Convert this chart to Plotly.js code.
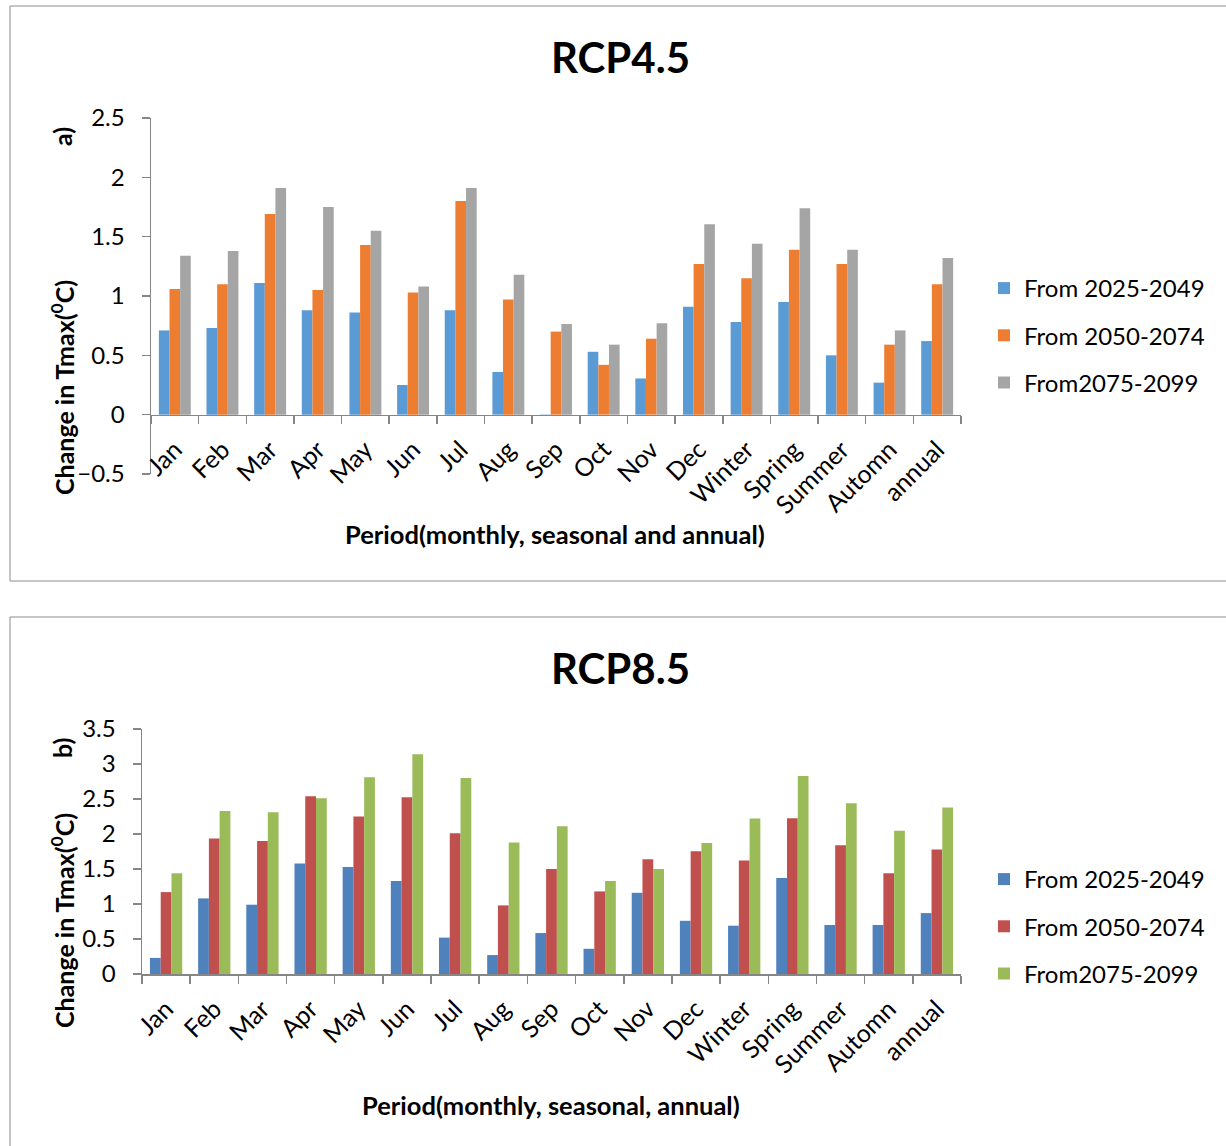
<!DOCTYPE html>
<html>
<head>
<meta charset="utf-8">
<script src="https://cdn.plot.ly/plotly-3.0.1.min.js"></script>
<style>html,body{margin:0;padding:0;background:#fff;}#chart{width:1226px;height:1146px;}</style>
</head>
<body>
<div id="chart"></div>
<script>
const categories = ['Jan','Feb','Mar','Apr','May','Jun','Jul','Aug','Sep','Oct','Nov','Dec','Winter','Spring','Summer','Automn','annual'];
const seriesNames = ['From 2025-2049','From 2050-2074','From2075-2099'];

const rcp45_2025_2049 = [0.71,0.73,1.11,0.88,0.86,0.25,0.88,0.36,-0.01,0.53,0.305,0.91,0.78,0.95,0.50,0.27,0.62];
const rcp45_2050_2074 = [1.06,1.10,1.69,1.05,1.43,1.03,1.80,0.97,0.70,0.42,0.64,1.27,1.15,1.39,1.27,0.59,1.10];
const rcp45_2075_2099 = [1.34,1.38,1.91,1.75,1.55,1.08,1.91,1.18,0.765,0.59,0.77,1.605,1.44,1.74,1.39,0.71,1.32];

const rcp85_2025_2049 = [0.23,1.08,0.99,1.58,1.53,1.33,0.52,0.27,0.585,0.36,1.16,0.76,0.69,1.37,0.70,0.70,0.87];
const rcp85_2050_2074 = [1.17,1.935,1.90,2.54,2.25,2.525,2.01,0.98,1.50,1.18,1.64,1.755,1.62,2.225,1.84,1.44,1.78];
const rcp85_2075_2099 = [1.44,2.33,2.31,2.51,2.81,3.14,2.80,1.88,2.11,1.33,1.50,1.87,2.22,2.83,2.44,2.045,2.38];

const colors45 = ['#5B9BD5','#ED7D31','#A5A5A5'];
const colors85 = ['#4F81BD','#C0504D','#9BBB59'];

const W = 1226, H = 1146;
const px = v => v / W;
const py = v => 1 - v / H;
const FONT = 'Lato, "Open Sans", sans-serif';

const topY = [py(474), py(118)];
const botY = [py(974), py(729)];
const topRange = [-0.5, 2.5];
const zeroPos = topY[0] + (0 - topRange[0]) / (topRange[1] - topRange[0]) * (topY[1] - topY[0]);

const data45 = [rcp45_2025_2049, rcp45_2050_2074, rcp45_2075_2099];
const data85 = [rcp85_2025_2049, rcp85_2050_2074, rcp85_2075_2099];

const traces = [];
data45.forEach((vals, i) => traces.push({
  type: 'bar', x: categories, y: vals, name: seriesNames[i],
  marker: {color: colors45[i]}, xaxis: 'x', yaxis: 'y',
  legend: 'legend', legendgroup: 'a' + i
}));
data85.forEach((vals, i) => traces.push({
  type: 'bar', x: categories, y: vals, name: seriesNames[i],
  marker: {color: colors85[i]}, xaxis: 'x2', yaxis: 'y2',
  legend: 'legend2', legendgroup: 'b' + i
}));

const axisCommon = {
  showline: true, linecolor: '#868686', linewidth: 1.5,
  showgrid: false, zeroline: false,
  ticks: 'outside', ticklen: 8, tickcolor: '#868686', tickwidth: 1.5,
  tickfont: {family: FONT, size: 24, color: '#000'}
};

const xCommon = Object.assign({}, axisCommon, {
  type: 'category', categoryorder: 'array', categoryarray: categories,
  tickson: 'boundaries', tickangle: -45, ticklabelstandoff: 9,
  tickfont: {family: FONT, size: 25, color: '#000'},
  range: [-0.5, categories.length - 0.5]
});

const legendCommon = {
  font: {family: FONT, size: 24, color: '#000'},
  bgcolor: 'rgba(0,0,0,0)', borderwidth: 0,
  xanchor: 'left', yanchor: 'top', tracegroupgap: 13, itemwidth: 30
};

const ann = (text, x, y, size, angle) => ({
  text: text, xref: 'paper', yref: 'paper', x: px(x), y: py(y),
  xanchor: 'center', yanchor: 'middle', textangle: angle || 0,
  showarrow: false, font: {family: FONT, size: size, color: '#000'}
});

const layout = {
  width: W, height: H,
  margin: {l: 0, r: 0, t: 0, b: 0},
  paper_bgcolor: '#fff', plot_bgcolor: 'rgba(0,0,0,0)',
  showlegend: true,
  barmode: 'group', bargap: 0.33, bargroupgap: 0,
  xaxis: Object.assign({}, xCommon, {domain: [px(151), px(961)], anchor: 'free', position: zeroPos}),
  yaxis: Object.assign({}, axisCommon, {domain: topY, range: topRange, dtick: 0.5, tick0: 0, anchor: 'x', ticklabelstandoff: 12}),
  xaxis2: Object.assign({}, xCommon, {domain: [px(142), px(961)], anchor: 'y2'}),
  yaxis2: Object.assign({}, axisCommon, {domain: botY, range: [0, 3.5], dtick: 0.5, tick0: 0, anchor: 'x2', ticklabelstandoff: 12}),
  legend: Object.assign({}, legendCommon, {x: px(984), y: py(266)}),
  legend2: Object.assign({}, legendCommon, {x: px(984), y: py(857)}),
  shapes: [
    {type: 'rect', xref: 'paper', yref: 'paper', x0: px(10), x1: px(1240), y0: py(581), y1: py(6), line: {color: '#8c8c8c', width: 1}},
    {type: 'rect', xref: 'paper', yref: 'paper', x0: px(10), x1: px(1240), y0: py(1160), y1: py(617), line: {color: '#8c8c8c', width: 1}}
  ],
  annotations: [
    ann('<b>RCP4.5</b>', 620, 57, 42),
    ann('<b>RCP8.5</b>', 620, 668, 42),
    ann('<b>Period(monthly, seasonal and annual)</b>', 555, 534, 25.5),
    ann('<b>Period(monthly, seasonal, annual)</b>', 551, 1105, 25.5),
    ann('<b>Change in Tmax(<sup>0</sup>C)</b>', 62, 388, 25, -90),
    ann('<b>Change in Tmax(<sup>0</sup>C)</b>', 62, 921, 25, -90),
    ann('<b>a)</b>', 62, 137, 25, -90),
    ann('<b>b)</b>', 62, 748, 25, -90)
  ]
};

Plotly.newPlot('chart', traces, layout, {staticPlot: true, displayModeBar: false});
</script>
</body>
</html>
